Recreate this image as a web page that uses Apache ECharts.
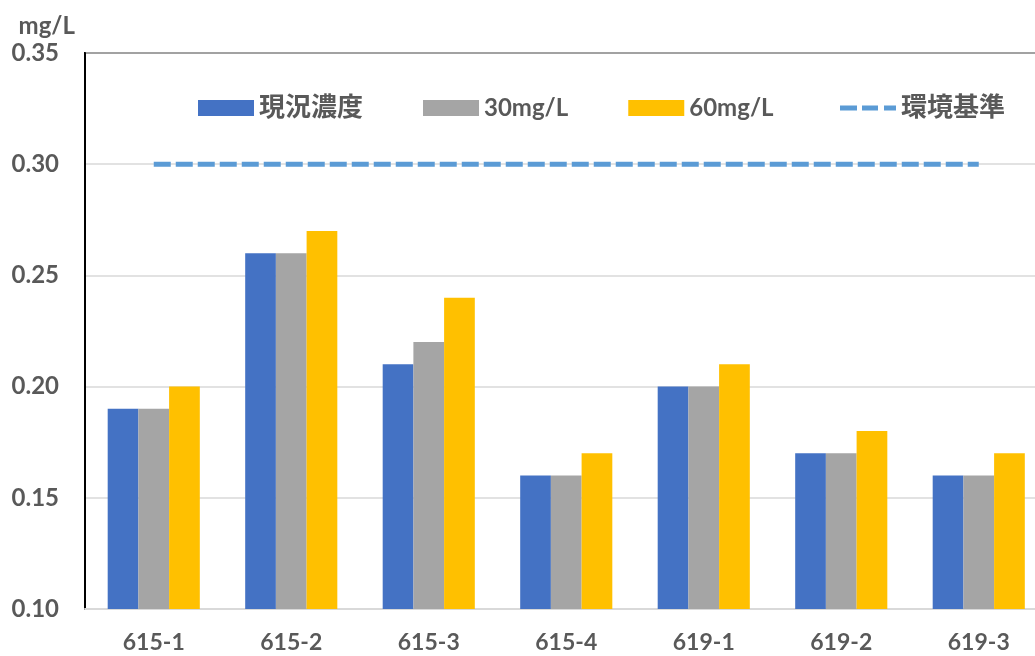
<!DOCTYPE html>
<html>
<head>
<meta charset="utf-8">
<script src="https://cdn.jsdelivr.net/npm/echarts@6/dist/echarts.min.js"></script>
<style>
html, body { margin: 0; padding: 0; background: #fff; }
#main { width: 1035px; height: 656px; }
</style>
</head>
<body>
<div id="main"></div>
<script>
var categories = ['615-1', '615-2', '615-3', '615-4', '619-1', '619-2', '619-3'];
var current = [0.19, 0.26, 0.21, 0.16, 0.20, 0.17, 0.16];
var dose30 = [0.19, 0.26, 0.22, 0.16, 0.20, 0.17, 0.16];
var dose60 = [0.20, 0.27, 0.24, 0.17, 0.21, 0.18, 0.17];
var standard = [0.30, 0.30, 0.30, 0.30, 0.30, 0.30, 0.30];
var seriesNames = ['現況濃度', '30mg/L', '60mg/L', '環境基準'];

var font = "Lato, 'Noto Sans CJK JP', sans-serif";
var textColor = '#595959';

// CJK names a bit larger, like the original
function legendText(name) {
    return /[^\x00-\x7f]/.test(name) ? '{c|' + name + '}' : name;
}
var legendTextStyle = {
    fontSize: 24, fontWeight: 'bold', color: textColor, fontFamily: font,
    rich: {c: {fontSize: 26, fontWeight: 'bold', color: textColor, fontFamily: font}}
};

var chart = echarts.init(document.getElementById('main'), null, {renderer: 'canvas'});

chart.setOption({
    animation: false,
    textStyle: {fontFamily: font},
    grid: {
        left: 85, top: 53, bottom: 47, width: 962.5,
        outerBoundsMode: 'none', containLabel: false,
        show: true, borderColor: '#000', borderWidth: 2
    },
    legend: [{
        left: 193, top: 90,
        itemWidth: 56, itemHeight: 16, itemGap: 60,
        formatter: legendText,
        textStyle: legendTextStyle,
        data: [
            {name: seriesNames[0], icon: 'rect'},
            {name: seriesNames[1], icon: 'rect'},
            {name: seriesNames[2], icon: 'rect'}
        ]
    }, {
        left: 835, top: 90,
        itemWidth: 56, itemHeight: 5,
        formatter: legendText,
        textStyle: legendTextStyle,
        data: [
            {name: seriesNames[3], icon: 'path://M0,0h17v5h-17z M22,0h16v5h-16z M44,0h12v5h-12z'}
        ]
    }],
    xAxis: {
        type: 'category',
        data: categories,
        axisLine: {lineStyle: {color: '#D9D9D9', width: 2}},
        axisTick: {show: false},
        axisLabel: {fontSize: 23, fontWeight: 'bold', color: textColor, margin: 22}
    },
    yAxis: {
        type: 'value',
        min: 0.1, max: 0.35, interval: 0.05,
        name: 'mg/L',
        nameGap: 15,
        nameTextStyle: {fontSize: 24, fontWeight: 'bold', color: textColor, align: 'right', padding: [0, 10, 0, 0]},
        axisLine: {show: true, lineStyle: {color: '#000', width: 2}},
        axisTick: {show: false},
        splitLine: {lineStyle: {color: '#D9D9D9', width: 1.5}},
        axisLabel: {
            fontSize: 24, fontWeight: 'bold', color: textColor, margin: 26,
            formatter: function (v) { return v.toFixed(2); }
        }
    },
    series: [
        {name: seriesNames[0], type: 'bar', data: current, barGap: 0, barCategoryGap: '33%', itemStyle: {color: '#4472C4'}},
        {name: seriesNames[1], type: 'bar', data: dose30, itemStyle: {color: '#A5A5A5'}},
        {name: seriesNames[2], type: 'bar', data: dose60, itemStyle: {color: '#FFC000'}},
        {
            name: seriesNames[3], type: 'line', data: standard,
            symbol: 'none',
            itemStyle: {color: '#5B9BD5'},
            lineStyle: {color: '#5B9BD5', width: 5, type: [17, 5]}
        }
    ]
});
</script>
</body>
</html>
